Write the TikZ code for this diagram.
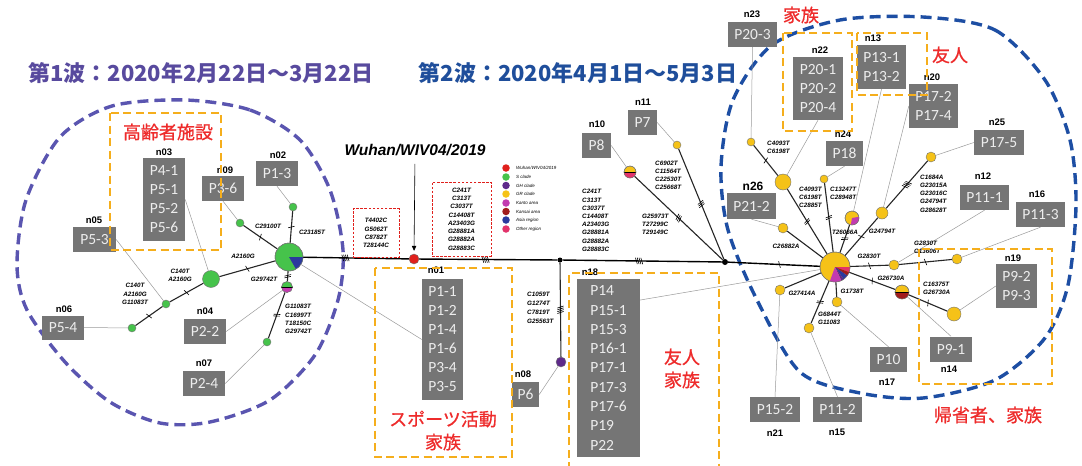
\documentclass[tikz,border=0pt]{standalone}
\usepackage{fontspec}
\setmainfont{Liberation Sans}
\newfontfamily\cjk{Noto Sans CJK JP}
\newfontfamily\cjkr[FakeBold=0.8]{Noto Sans CJK JP}
\newfontfamily\carl{Carlito}
\usetikzlibrary{decorations.markings,arrows.meta}
\definecolor{sgreen}{HTML}{46C34B}
\definecolor{gyel}{HTML}{F5C218}
\definecolor{gpur}{HTML}{5E2A8A}
\definecolor{gmag}{HTML}{C23BB0}
\definecolor{gdred}{HTML}{A11C1C}
\definecolor{gblue}{HTML}{2B3A9E}
\definecolor{gpink}{HTML}{E2336B}
\definecolor{wred}{HTML}{E0201C}
\definecolor{boxgray}{HTML}{757575}
\definecolor{boxtxt}{HTML}{EDEDED}
\definecolor{orng}{HTML}{F5AE1C}
\definecolor{circL}{HTML}{5A55B0}
\definecolor{circR}{HTML}{1D4EA3}
\definecolor{tone}{HTML}{584A9E}
\definecolor{ttwo}{HTML}{1F4E9B}
\definecolor{redtxt}{HTML}{EE2B2B}
\definecolor{gline}{HTML}{9A9A9A}
\pgfdeclarelayer{back}
\pgfdeclarelayer{bg}
\pgfsetlayers{back,bg,main}
\newcommand\wedgefill[5]{\fill[#5] (#1) -- ++(#3:#2pt) arc[start angle=#3, end angle=#4, radius=#2pt] -- cycle;}
\tikzset{
  gb/.style={fill=boxgray, text=boxtxt, font=\carl\fontsize{15.5}{19}\selectfont, align=center, inner sep=0pt},
  nl/.style={font=\fontsize{9.5}{10}\selectfont\bfseries, inner sep=0pt},
  mu/.style={font=\fontsize{6.3}{8.2}\selectfont\bfseries\itshape, inner sep=0pt, align=left},
  muc/.style={mu, align=center},
  cn/.style={circle, inner sep=0pt, draw=black!55, line width=0.4pt},
  gnode/.style={cn, fill=sgreen},
  ynode/.style={cn, fill=gyel},
  ed/.style={draw=black!85, line width=1.1pt},
  bb/.style={draw=black, line width=1.4pt},
  gl/.style={draw=gline, line width=0.5pt},
  ob/.style={draw=orng, line width=2.4pt, dash pattern=on 8pt off 4.5pt},
  rb/.style={draw=wred, line width=0.9pt, dash pattern=on 2.5pt off 1.6pt, align=center, inner sep=0pt, font=\fontsize{6.3}{8.3}\selectfont\bfseries\itshape},
  rt/.style={text=redtxt, font=\cjkr\fontsize{18}{23}\selectfont, align=center, inner sep=0pt},
  lg/.style={font=\fontsize{4.5}{5}\selectfont\itshape, anchor=west, inner sep=0pt},
  lgd/.style={circle, inner sep=0pt, minimum size=7.5pt},
  tk/.style 2 args={postaction={decorate,decoration={markings,mark=at position #1 with {\foreach \k in {1,...,#2}{\draw[black,line width=0.6pt] ({(\k-(#2+1)/2)*1.8-1},-3.2)--({(\k-(#2+1)/2)*1.8+1},3.2);}}}}},
}
\begin{document}
\begin{tikzpicture}[x=1pt,y=-1pt]
\useasboundingbox (0,0) rectangle (1082,466);
\begin{pgfonlayer}{back}
\fill[white] (0,0) rectangle (1082,466);
\draw[circL, line width=3.4pt, dash pattern=on 11pt off 6pt] plot[smooth cycle] coordinates {(185,100) (250,110) (300,140) (330,190) (343,250) (338,300) (315,355) (270,400) (210,422) (160,423) (110,402) (65,362) (27,310) (17,265) (26,200) (60,137) (112,106)};
\draw[circR, line width=3.4pt, dash pattern=on 11pt off 6pt] plot[smooth cycle] coordinates {(923,17) (995,30) (1045,80) (1070,140) (1076,205) (1068,285) (1045,338) (995,380) (923,398) (860,393) (800,372) (757,300) (728,230) (721,167) (733,100) (772,45) (840,20)};
\end{pgfonlayer}

% titles
\node[font=\cjk\bfseries\fontsize{22}{24}\selectfont, text=tone, inner sep=0pt] (t1) at (201,73) {第1波：2020年2月22日～3月22日};
\node[font=\cjk\bfseries\fontsize{22}{24}\selectfont, text=ttwo, inner sep=0pt] (t2) at (578,73) {第2波：2020年4月1日～5月3日};

% ---------- network nodes ----------
\node[gnode, minimum size=28pt] (L0) at (289,257) {};
\node[gnode, minimum size=8pt] (L1) at (240,223) {};
\node[gnode, minimum size=8pt] (L2) at (293,207) {};
\node[gnode, minimum size=17pt] (L3) at (211,279) {};
\node[gnode, minimum size=8pt] (L4) at (166,304) {};
\node[gnode, minimum size=8pt] (L5) at (132,328) {};
\node[gnode, minimum size=11pt] (L6) at (287,287) {};
\node[gnode, minimum size=8pt] (L7) at (267,342) {};

\node[cn, fill=wred, minimum size=10pt] (W) at (414,259) {};
\node[circle, fill=black, inner sep=0pt, minimum size=5pt] (J1) at (560,260) {};
\node[cn, fill=gpur, minimum size=10pt] (P) at (561,362) {};
\node[circle, fill=black, inner sep=0pt, minimum size=6pt] (J2) at (725,262) {};
\node[ynode, minimum size=12pt] (M1) at (630,172) {};
\node[ynode, minimum size=8pt] (M2) at (677,145) {};

\node[ynode, minimum size=30pt] (R0) at (835,267) {};
\node[ynode, minimum size=16pt] (R1) at (783,182) {};
\node[ynode, minimum size=8pt] (R2) at (751,142) {};
\node[ynode, minimum size=8pt] (R3) at (824,179) {};
\node[ynode, minimum size=14pt] (R4) at (852,218) {};
\node[ynode, minimum size=12pt] (R5) at (882,213) {};
\node[ynode, minimum size=10pt] (R6) at (931,157) {};
\node[ynode, minimum size=10pt] (R7) at (894,265) {};
\node[ynode, minimum size=10pt] (R8) at (957,259) {};
\node[ynode, minimum size=14pt] (R9) at (902,292) {};
\node[ynode, minimum size=14pt] (R10) at (954,314) {};
\node[ynode, minimum size=10pt] (R11) at (837,302) {};
\node[ynode, minimum size=10pt] (R12) at (809,328) {};
\node[ynode, minimum size=10pt] (R13) at (780,290) {};
\node[ynode, minimum size=10pt] (R14) at (783,228) {};

% pies
\wedgefill{L0.center}{14}{0}{-60}{gblue}
\draw[black!55, line width=0.4pt] (L0.center) circle[radius=14pt];
\wedgefill{L6.center}{5.5}{180}{360}{gmag}
\draw[black, line width=0.6pt] (L6.west) -- (L6.east);
\draw[black!55, line width=0.4pt] (L6.center) circle[radius=5.5pt];
\wedgefill{M1.center}{6}{180}{360}{gpink}
\draw[black, line width=0.6pt] (M1.west) -- (M1.east);
\draw[black!55, line width=0.4pt] (M1.center) circle[radius=6pt];
\wedgefill{R9.center}{7}{180}{360}{gdred}
\draw[black, line width=0.6pt] (R9.west) -- (R9.east);
\draw[black!55, line width=0.4pt] (R9.center) circle[radius=7pt];
\wedgefill{R4.center}{7}{-100}{10}{gmag}
\draw[black!55, line width=0.4pt] (R4.center) circle[radius=7pt];
\wedgefill{R0.center}{15}{0}{-20}{gpink}
\wedgefill{R0.center}{15}{-20}{-35}{gdred}
\wedgefill{R0.center}{15}{-35}{-55}{gblue}
\wedgefill{R0.center}{15}{-55}{-65}{gpur}
\wedgefill{R0.center}{15}{-65}{-110}{gmag}
\draw[black!55, line width=0.4pt] (R0.center) circle[radius=15pt];

% ---------- gray sample boxes ----------
\node[gb, minimum width=42pt, minimum height=83pt] (n03) at (164,199.5) {P4-1\\P5-1\\P5-2\\P5-6};
\node[gb, minimum width=42pt, minimum height=25pt] (n09) at (223,188.5) {P3-6};
\node[gb, minimum width=42pt, minimum height=25pt] (n02) at (277,173.5) {P1-3};
\node[gb, minimum width=43pt, minimum height=25pt] (n05) at (94.5,239.5) {P5-3};
\node[gb, minimum width=42pt, minimum height=24pt] (n06) at (63,327.5) {P5-4};
\node[gb, minimum width=42pt, minimum height=25pt] (n04) at (205,331.5) {P2-2};
\node[gb, minimum width=42pt, minimum height=25pt] (n07) at (204,383.5) {P2-4};
\node[gb, minimum width=41pt, minimum height=121pt] (n01) at (442.5,339.5) {P1-1\\P1-2\\P1-4\\P1-6\\P3-4\\P3-5};
\node[gb, minimum width=27pt, minimum height=25pt] (n08) at (525.5,394.5) {P6};
\node[gb, minimum width=63pt, minimum height=178pt, align=left, font=\carl\fontsize{15.5}{19.3}\selectfont] (n18) at (608.5,368) {P14\\P15-1\\P15-3\\P16-1\\P17-1\\P17-3\\P17-6\\P19\\P22};
\node[gb, minimum width=29pt, minimum height=25pt] (n10) at (596.5,145.5) {P8};
\node[gb, minimum width=29pt, minimum height=25pt] (n11) at (642.5,122.5) {P7};
\node[gb, minimum width=49pt, minimum height=25pt] (n23) at (752.5,34.5) {P20-3};
\node[gb, minimum width=50pt, minimum height=63pt] (n22) at (818,88.5) {P20-1\\P20-2\\P20-4};
\node[gb, minimum width=49pt, minimum height=44pt] (n13) at (881.5,67) {P13-1\\P13-2};
\node[gb, minimum width=49pt, minimum height=44pt] (n20) at (933.5,106) {P17-2\\P17-4};
\node[gb, minimum width=37pt, minimum height=25pt] (n24) at (844.5,153.5) {P18};
\node[gb, minimum width=50pt, minimum height=25pt] (n25) at (999,142.5) {P17-5};
\node[gb, minimum width=49pt, minimum height=26pt] (n26) at (751.5,206) {P21-2};
\node[gb, minimum width=49pt, minimum height=25pt] (n12) at (984.5,197.5) {P11-1};
\node[gb, minimum width=49pt, minimum height=25pt] (n16) at (1040.5,214.5) {P11-3};
\node[gb, minimum width=41pt, minimum height=44pt] (n19) at (1016.5,286) {P9-2\\P9-3};
\node[gb, minimum width=42pt, minimum height=25pt] (n14) at (951,349) {P9-1};
\node[gb, minimum width=37pt, minimum height=25pt] (n17) at (888.5,359.5) {P10};
\node[gb, minimum width=50pt, minimum height=25pt] (n21) at (775,409.5) {P15-2};
\node[gb, minimum width=49pt, minimum height=25pt] (n15) at (837.5,409.5) {P11-2};

% labels of boxes
\node[nl] (ln03) at (164,152) {n03};
\node[nl] (ln09) at (225,170) {n09};
\node[nl] (ln02) at (278,155) {n02};
\node[nl] (ln05) at (94,220) {n05};
\node[nl] (ln06) at (64,309) {n06};
\node[nl] (ln04) at (205,311) {n04};
\node[nl] (ln07) at (204,363) {n07};
\node[nl] (ln01) at (436,270) {n01};
\node[nl] (ln08) at (523,374) {n08};
\node[nl] (ln18) at (590,272) {n18};
\node[nl] (ln10) at (597,124) {n10};
\node[nl] (ln11) at (643,102) {n11};
\node[nl] (ln23) at (752,14) {n23};
\node[nl] (ln22) at (820,50) {n22};
\node[nl] (ln13) at (873,38) {n13};
\node[nl] (ln20) at (932,77) {n20};
\node[nl] (ln24) at (843,134) {n24};
\node[nl] (ln25) at (997,122) {n25};
\node[nl, font=\fontsize{12}{13}\selectfont\bfseries] (ln26) at (753,186) {n26};
\node[nl] (ln12) at (983,176) {n12};
\node[nl] (ln16) at (1037,194) {n16};
\node[nl] (ln19) at (1013,258) {n19};
\node[nl] (ln14) at (949,369) {n14};
\node[nl] (ln17) at (887,382) {n17};
\node[nl] (ln21) at (775,433) {n21};
\node[nl] (ln15) at (837,432) {n15};

% ---------- edges ----------
\begin{pgfonlayer}{bg}
\draw[bb, tk={0.4}{4}] (L0) -- (W);
\draw[bb, tk={0.48}{4}] (W) -- (J1);
\draw[bb, tk={0.48}{4}] (J1) -- (J2);
\draw[bb, tk={0.56}{1}] (J2) -- (R0);
\draw[ed, tk={0.5}{4}] (J1) -- (P);
\draw[ed, tk={0.5}{3}] (J2) -- (M1);
\draw[ed, tk={0.5}{3}] (J2) -- (M2);
\draw[ed, tk={0.5}{1}] (L1) -- (L0);
\draw[ed, tk={0.5}{1}] (L2) -- (L0);
\draw[ed, tk={0.5}{1}] (L3) -- (L0);
\draw[ed, tk={0.5}{1}] (L4) -- (L3);
\draw[ed, tk={0.5}{1}] (L5) -- (L4);
\draw[ed, tk={0.5}{2}] (L0) -- (L6);
\draw[ed, tk={0.5}{2}] (L6) -- (L7);
\draw[ed, tk={0.5}{2}] (R0) -- (R1);
\draw[ed, tk={0.5}{1}] (R1) -- (R2);
\draw[ed, tk={0.5}{2}] (R0) -- (R3);
\draw[ed, tk={0.5}{2}] (R0) -- (R4);
\draw[ed, tk={0.5}{1}] (R0) -- (R5);
\draw[ed, tk={0.5}{4}] (R5) -- (R6);
\draw[ed, tk={0.5}{1}] (R0) -- (R7);
\draw[ed, tk={0.5}{1}] (R7) -- (R8);
\draw[ed, tk={0.5}{1}] (R0) -- (R9);
\draw[ed, tk={0.5}{1}] (R9) -- (R10);
\draw[ed] (R0) -- (R11);
\draw[ed, tk={0.5}{2}] (R0) -- (R12);
\draw[ed] (R0) -- (R13);
\draw[ed] (R0) -- (R14);
% gray links
\draw[gl] (n09.south) -- (L1);
\draw[gl] (n02.south) -- (L2);
\draw[gl] (n03.east) -- (L3);
\draw[gl] (n05.east) -- (L4);
\draw[gl] (n06.east) -- (L5);
\draw[gl] (n04.east) -- (L6);
\draw[gl] (n07.east) -- (L7);
\draw[gl] (n01.west) -- (L0);
\draw[gl] (n08.east) -- (P);
\draw[gl] (n10.east) -- (M1);
\draw[gl] (n11.east) -- (M2);
\draw[gl] (n18.65) -- (R0);
\draw[gl] (n23.south) -- (R2);
\draw[gl] (n22.south) -- (R1);
\draw[gl] (n13.south) -- (R4);
\draw[gl] (n20.west) -- (R5);
\draw[gl] (n24.south) -- (R3);
\draw[gl] (n25.west) -- (R6);
\draw[gl] (n26.south) -- (R14);
\draw[gl] (n12.south) -- (R7);
\draw[gl] (n16.south) -- (R8);
\draw[gl] (n19.west) -- (R10);
\draw[gl] (n14.north) -- (R9);
\draw[gl] (n17.north) -- (R11);
\draw[gl] (n15.north) -- (R12);
\draw[gl] (n21.north) -- (R13);
\end{pgfonlayer}

% ---------- mutation labels ----------
\node[muc] (m1) at (268,226) {C29100T};
\node[muc] (m2) at (312,232) {C23185T};
\node[muc] (m3) at (243,256) {A2160G};
\node[muc] (m4) at (180,275) {C140T\\A2160G};
\node[muc] (m5) at (135,294) {C140T\\A2160G\\G11083T};
\node[muc] (m6) at (264,279) {G29742T};
\node[mu, anchor=west] (m7) at (285,319) {G11083T\\C16997T\\T18150C\\G29742T};
\node[mu, anchor=west] (m8) at (582,220.5) {C241T\\C313T\\C3037T\\C14408T\\A23403G\\G28881A\\G28882A\\G28883C};
\node[mu, anchor=west, font=\fontsize{6.3}{9}\selectfont\bfseries\itshape] (m9) at (527,307.5) {C1059T\\G1274T\\C7819T\\G25563T};
\node[mu, anchor=west] (m10) at (642,224.5) {G25973T\\T27299C\\T29149C};
\node[mu, anchor=west] (m11) at (655,175.5) {C6902T\\C11564T\\C22530T\\C25668T};
\node[mu, anchor=west] (m12) at (767,147.5) {C4093T\\C6198T};
\node[mu, anchor=west] (m13) at (799,197.5) {C4093T\\C6198T\\C2885T};
\node[mu, anchor=west] (m14) at (830,193) {C13247T\\C28948T};
\node[muc] (m15) at (845,232) {T26066A};
\node[muc] (m16) at (882,231) {G24794T};
\node[mu, anchor=west] (m17) at (920,193.5) {C1684A\\G23015A\\G23016C\\G24794T\\G28628T};
\node[muc] (m18) at (869,256) {G2830T};
\node[mu, anchor=west] (m19) at (914,247.5) {G2830T\\C13606T};
\node[muc] (m20) at (786,246) {C26882A};
\node[muc] (m21) at (891,278) {G26730A};
\node[mu, anchor=west] (m22) at (923,288) {C16375T\\G26730A};
\node[muc] (m23) at (852,291) {G1738T};
\node[muc] (m24) at (802,293) {G27414A};
\node[mu, anchor=west] (m25) at (818,318.5) {G6844T\\G11083};

% red dashed boxes
\node[rb, minimum width=46pt, minimum height=49pt] (rb1) at (376,233) {T4402C\\G5062T\\C8782T\\T28144C};
\node[rb, minimum width=59pt, minimum height=74pt] (rb2) at (461.5,219) {C241T\\C313T\\C3037T\\C14408T\\A23403G\\G28881A\\G28882A\\G28883C};

% Wuhan label and arrow
\node[font=\fontsize{15.5}{17}\selectfont\bfseries\itshape, inner sep=0pt] (wl) at (415,150) {Wuhan/WIV04/2019};
\draw[black, line width=0.6pt, -{Triangle[length=5pt,width=4.5pt]}, shorten <=8pt, shorten >=3pt] (wl.south) -- (W.north);

% legend
\node[lgd, fill=wred] (g1) at (506,168) {};
\node[lgd, fill=sgreen] (g2) at (506,177) {};
\node[lgd, fill=gpur] (g3) at (506,185.5) {};
\node[lgd, fill=gyel] (g4) at (506,194) {};
\node[lgd, fill=gmag] (g5) at (506,203) {};
\node[lgd, fill=gdred] (g6) at (506,211.5) {};
\node[lgd, fill=gblue] (g7) at (506,220) {};
\node[lgd, fill=gpink] (g8) at (506,229) {};
\node[lg] (gt1) at (516,168) {Wuhan/WIV04/2019};
\node[lg] (gt2) at (516,177) {S clade};
\node[lg] (gt3) at (516,185.5) {GH clade};
\node[lg] (gt4) at (516,194) {GR clade};
\node[lg] (gt5) at (516,203) {Kanto area};
\node[lg] (gt6) at (516,211.5) {Kansai area};
\node[lg] (gt7) at (516,220) {Asia region};
\node[lg] (gt8) at (516,229) {Other region};

% orange dashed groups
\draw[ob] (110,113) rectangle (221,250);
\draw[ob] (375,268) rectangle (512,457);
\draw[ob] (569,470) -- (569,273) -- (719,273) -- (719,470);
\draw[ob] (783,33) rectangle (852,131);
\draw[ob] (857,33) rectangle (927,95);
\draw[ob] (919,249) rectangle (1052,384);

% red group texts
\node[rt] (r1) at (168,132) {高齢者施設};
\node[rt] (r2) at (443,430.5) {スポーツ活動\\家族};
\node[rt] (r3) at (682,368.5) {友人\\家族};
\node[rt] (r4) at (801,15) {家族};
\node[rt] (r5) at (950,55) {友人};
\node[rt] (r6) at (988,415) {帰省者、家族};
\end{tikzpicture}
\end{document}
